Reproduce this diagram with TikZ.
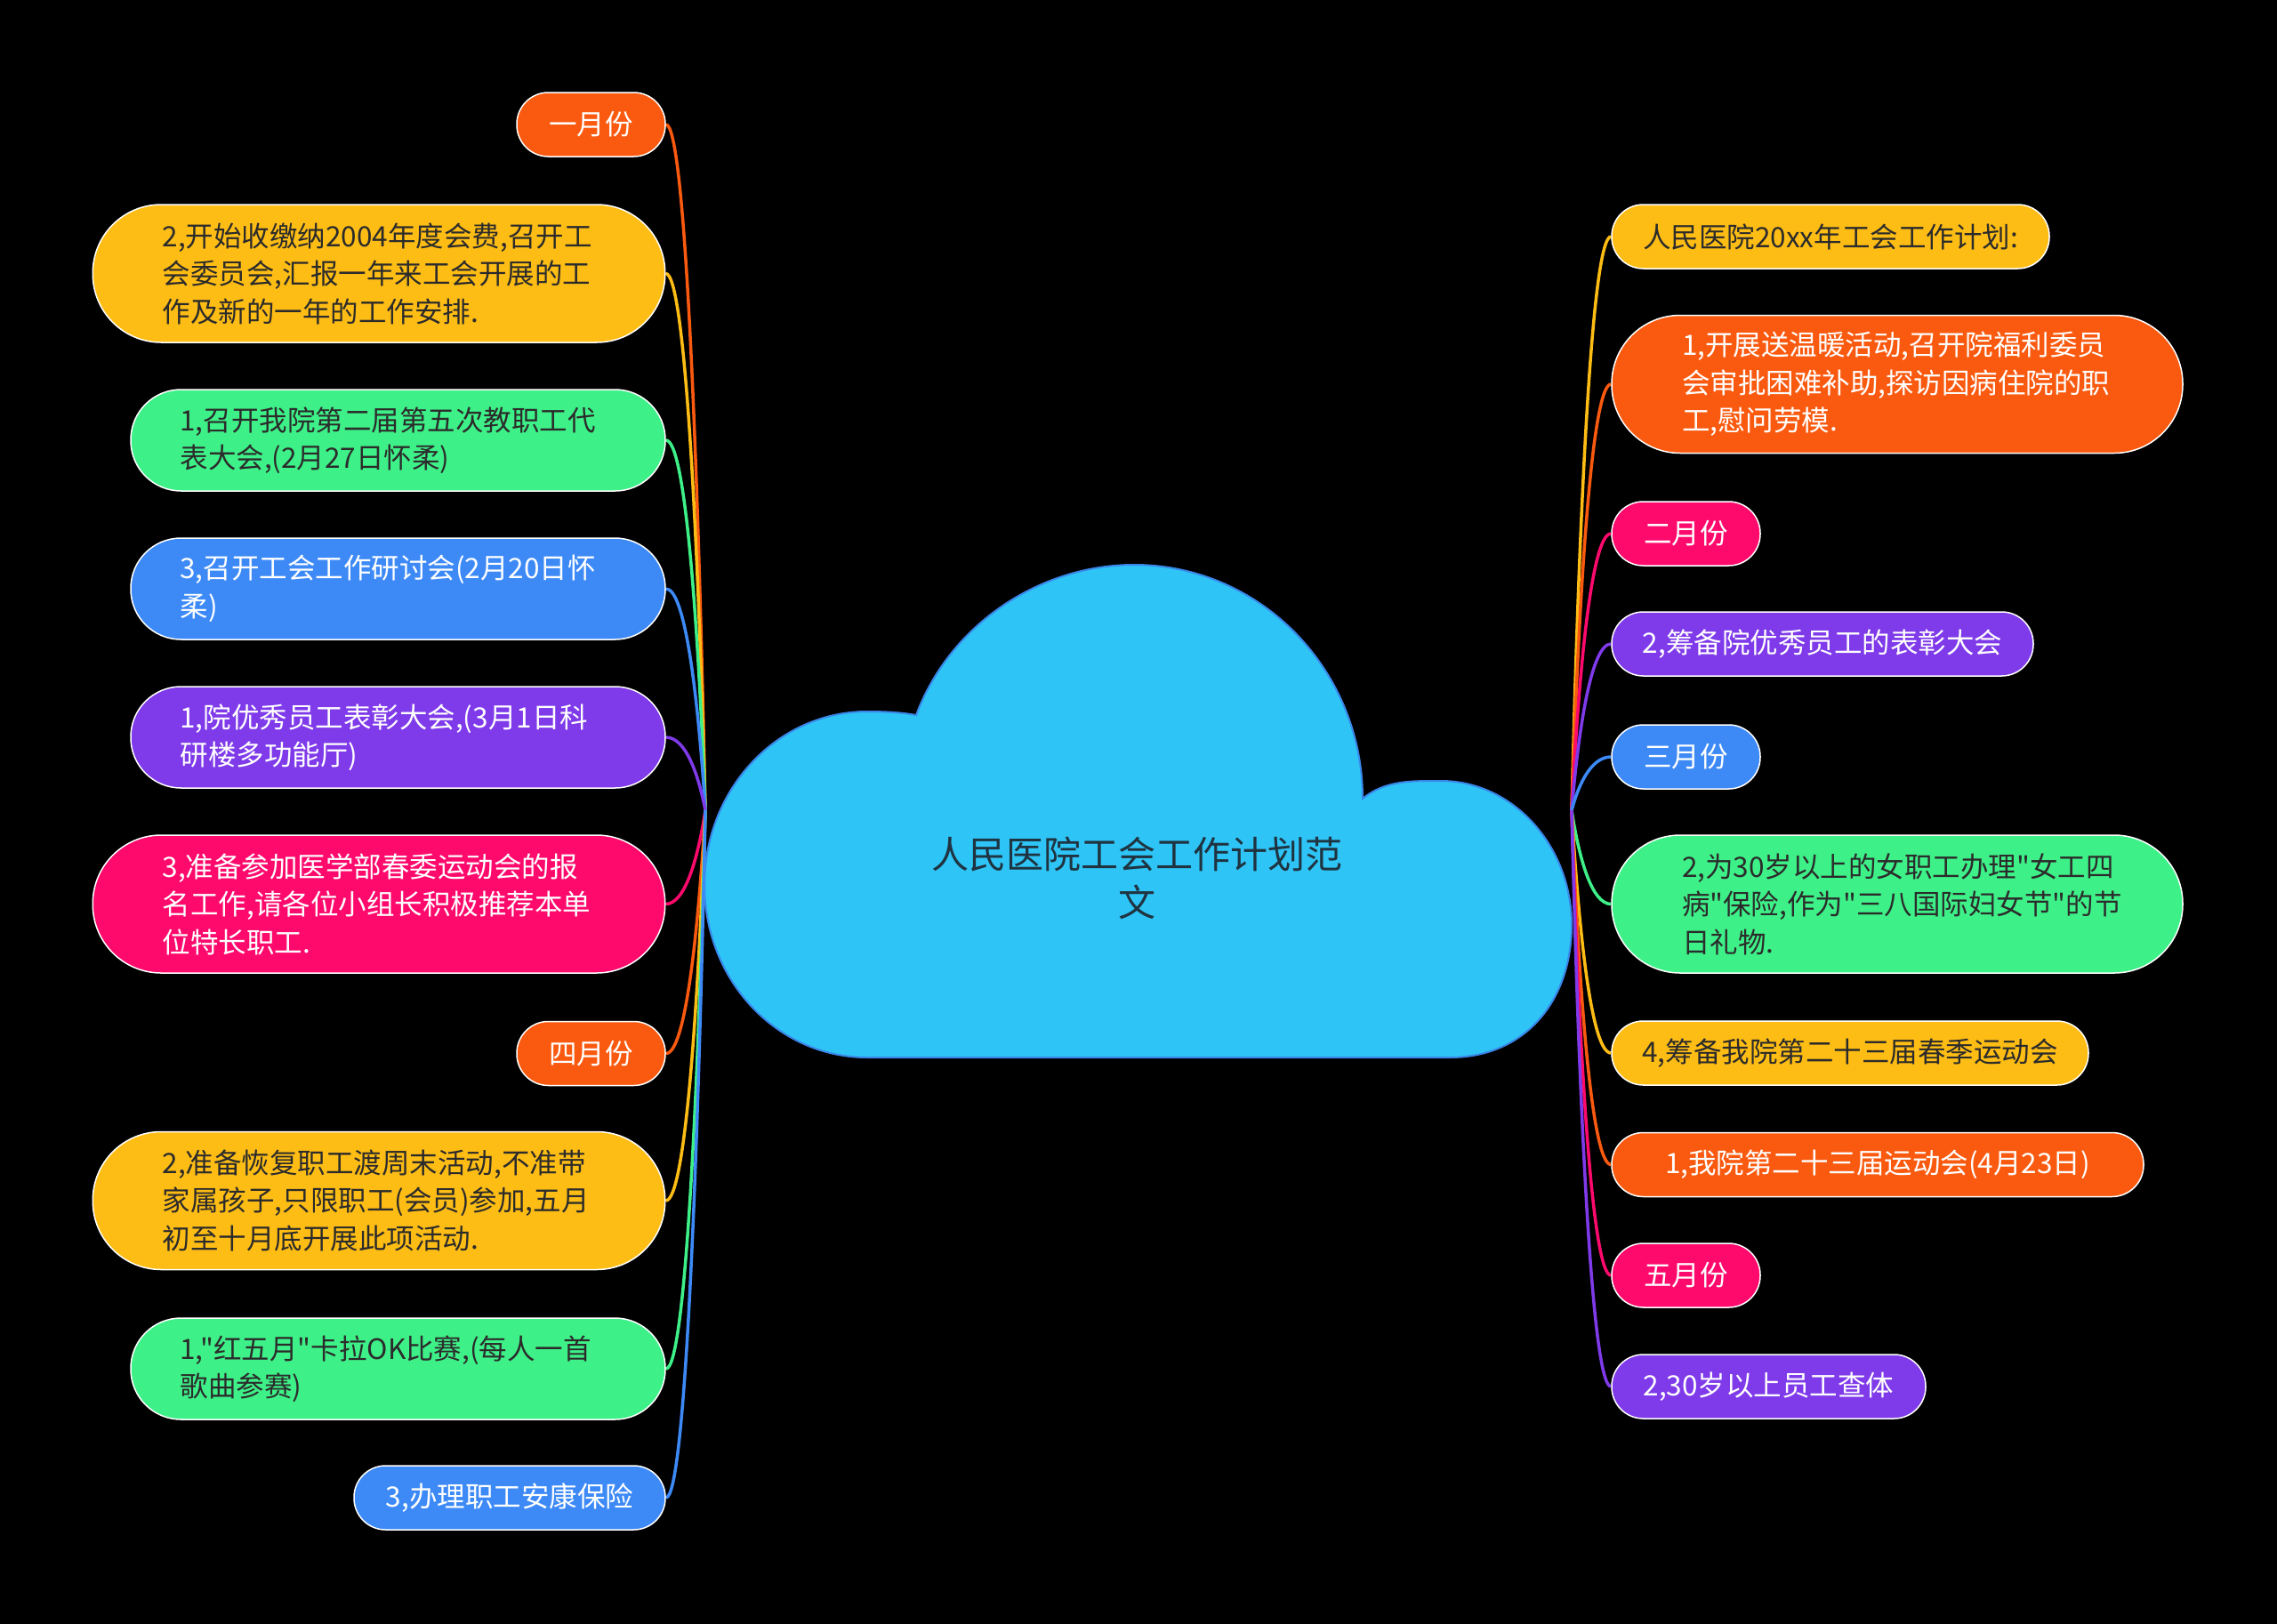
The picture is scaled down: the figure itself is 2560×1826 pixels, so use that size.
\documentclass[tikz,border=0pt]{standalone}
\usepackage{fontspec}
\setmainfont{Noto Sans CJK SC}[Ligatures=TeXOff]
\usetikzlibrary{calc}
\definecolor{cOr}{HTML}{FA5A0F}
\definecolor{cYe}{HTML}{FEBD15}
\definecolor{cGr}{HTML}{3EF088}
\definecolor{cBl}{HTML}{3D8AF7}
\definecolor{cPu}{HTML}{7F3AEA}
\definecolor{cPk}{HTML}{FE0A6D}
\definecolor{cCloud}{HTML}{2EC4F6}
\definecolor{cCloudB}{HTML}{3A86E8}
\definecolor{cDk}{HTML}{2B2B2B}
\definecolor{cTitle}{HTML}{1F3340}
\pgfdeclarelayer{back}
\pgfdeclarelayer{conns}
\pgfsetlayers{back,conns,main}
\newcommand\nfont{\fontsize{31.5pt}{42.5pt}\selectfont}
\newcommand\lconn[2]{\draw[conn,#1] let \p1=(rootL), \p2=(#2.east) in (\p1) .. controls (\x1-8pt,{0.5*\y1+0.5*\y2}) and (\x2+22pt,\y2) .. (\p2);}
\newcommand\rconn[2]{\draw[conn,#1] let \p1=(rootR), \p2=(#2.west) in (\p1) .. controls (\x1+8pt,{0.5*\y1+0.5*\y2}) and (\x2-22pt,\y2) .. (\p2);}
\begin{document}
\begin{tikzpicture}[x=1pt,y=-1pt,
  pill/.style={draw=white, line width=1.5pt, rounded corners=#1, inner sep=0pt, font=\nfont, align=left},
  s1/.style={pill=35.5, minimum height=72pt},
  s2/.style={pill=56.5, minimum height=114pt},
  s3/.style={pill=77, minimum height=155pt},
  wt/.style={text=white},
  dk/.style={text=cDk},
  conn/.style={line width=3.5pt}]
\begin{pgfonlayer}{back}
\fill[black] (0,0) rectangle (2560,1826);
\filldraw[fill=cCloud, draw=cCloudB, line width=2pt]
  (1030,804) .. controls (1068,702) and (1169,635) .. (1275,635)
  .. controls (1417,635) and (1532,753) .. (1532,898)
  .. controls (1557,877) and (1588,878) .. (1620,878)
  .. controls (1701,878) and (1767,951) .. (1767,1040)
  .. controls (1767,1125) and (1715,1189) .. (1630,1189)
  -- (975,1189)
  .. controls (874,1189) and (792,1103) .. (792,995)
  .. controls (792,887) and (874,800) .. (975,800)
  .. controls (995,800) and (1013,801) .. (1030,804) -- cycle;
\end{pgfonlayer}
\useasboundingbox (0,0) rectangle (2560,1826);

\node[font=\fontsize{42pt}{54pt}\selectfont, text=cTitle, align=center] (title) at (1278,987) {人民医院工会工作计划范\\文};
\coordinate (rootL) at (793,911);
\coordinate (rootR) at (1767,911);

% left side
\node[s1, fill=cOr, wt, minimum width=167pt] (m1) at (664.5,140) {一月份};
\node[s3, fill=cYe, dk, minimum width=643.5pt, text width=486.5pt] (L2) at (426,307.5) {2,开始收缴纳2004年度会费,召开工\\会委员会,汇报一年来工会开展的工\\作及新的一年的工作安排.};
\node[s2, fill=cGr, dk, minimum width=601pt, text width=490pt] (L3) at (447.5,495) {1,召开我院第二届第五次教职工代\\表大会,(2月27日怀柔)};
\node[s2, fill=cBl, wt, minimum width=601pt, text width=490pt] (L4) at (447.5,662) {3,召开工会工作研讨会(2月20日怀\\柔)};
\node[s2, fill=cPu, wt, minimum width=601pt, text width=490pt] (L5) at (447.5,829) {1,院优秀员工表彰大会,(3月1日科\\研楼多功能厅)};
\node[s3, fill=cPk, wt, minimum width=643.5pt, text width=486.5pt] (L6) at (426,1016.5) {3,准备参加医学部春委运动会的报\\名工作,请各位小组长积极推荐本单\\位特长职工.};
\node[s1, fill=cOr, wt, minimum width=167pt] (m4) at (664.5,1184.5) {四月份};
\node[s3, fill=cYe, dk, minimum width=643.5pt, text width=486.5pt] (L8) at (426,1350) {2,准备恢复职工渡周末活动,不准带\\家属孩子,只限职工(会员)参加,五月\\初至十月底开展此项活动.};
\node[s2, fill=cGr, dk, minimum width=601pt, text width=490pt] (L9) at (447.5,1539) {1,"红五月"卡拉OK比赛,(每人一首\\歌曲参赛)};
\node[s1, fill=cBl, wt, minimum width=350pt] (L10) at (573,1684) {3,办理职工安康保险};

% right side
\node[s1, fill=cYe, dk, minimum width=492pt] (R1) at (2058,266) {人民医院20xx年工会工作计划:};
\node[s3, fill=cOr, wt, minimum width=642pt, text width=484pt] (R2) at (2133,432) {1,开展送温暖活动,召开院福利委员\\会审批困难补助,探访因病住院的职\\工,慰问劳模.};
\node[s1, fill=cPk, wt, minimum width=167pt] (R3) at (1895.5,600) {二月份};
\node[s1, fill=cPu, wt, minimum width=474pt] (R4) at (2049,724) {2,筹备院优秀员工的表彰大会};
\node[s1, fill=cBl, wt, minimum width=167pt] (R5) at (1895.5,851) {三月份};
\node[s3, fill=cGr, dk, minimum width=642pt, text width=484pt] (R6) at (2133,1016.5) {2,为30岁以上的女职工办理"女工四\\病"保险,作为"三八国际妇女节"的节\\日礼物.};
\node[s1, fill=cYe, dk, minimum width=536pt] (R7) at (2080,1184) {4,筹备我院第二十三届春季运动会};
\node[s1, fill=cOr, wt, minimum width=598pt] (R8) at (2111,1309.5) {1,我院第二十三届运动会(4月23日)};
\node[s1, fill=cPk, wt, minimum width=167pt] (R9) at (1895.5,1434) {五月份};
\node[s1, fill=cPu, wt, minimum width=353pt] (R10) at (1988.5,1559) {2,30岁以上员工查体};

\begin{pgfonlayer}{conns}
\lconn{cOr}{m1}
\lconn{cYe}{L2}
\lconn{cGr}{L3}
\lconn{cBl}{L4}
\lconn{cPu}{L5}
\lconn{cPk}{L6}
\lconn{cOr}{m4}
\lconn{cYe}{L8}
\lconn{cGr}{L9}
\lconn{cBl}{L10}
\rconn{cYe}{R1}
\rconn{cOr}{R2}
\rconn{cPk}{R3}
\rconn{cPu}{R4}
\rconn{cBl}{R5}
\rconn{cGr}{R6}
\rconn{cYe}{R7}
\rconn{cOr}{R8}
\rconn{cPk}{R9}
\rconn{cPu}{R10}
\end{pgfonlayer}
\end{tikzpicture}
\end{document}
